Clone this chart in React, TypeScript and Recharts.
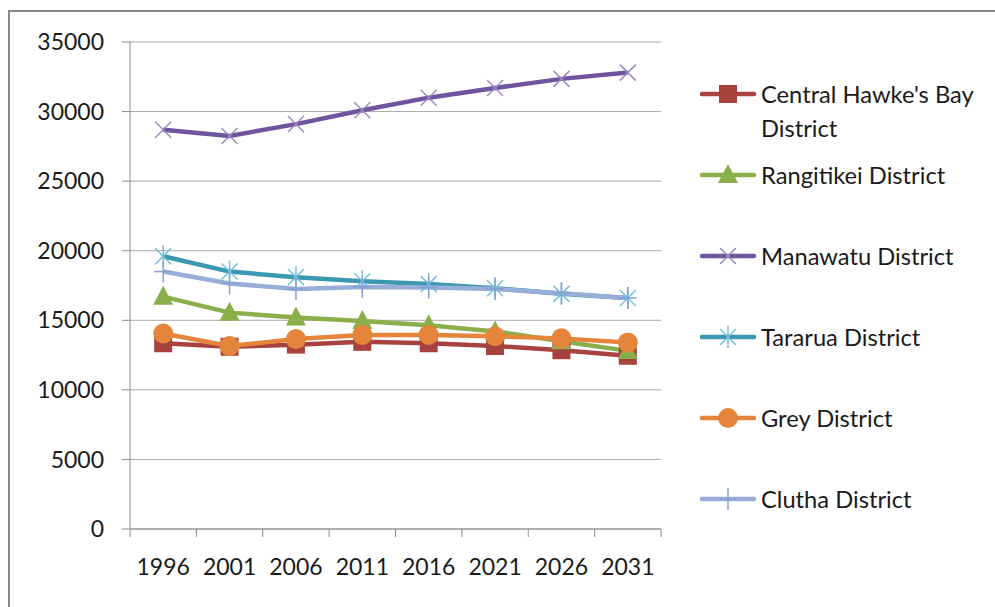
import { LineChart, Line, XAxis, YAxis, CartesianGrid } from "recharts"

const years = ["1996", "2001", "2006", "2011", "2016", "2021", "2026", "2031"]
const centralHawkesBay = [13350, 13100, 13250, 13450, 13350, 13150, 12850, 12450]
const rangitikei = [16700, 15550, 15200, 14950, 14650, 14200, 13500, 12800]
const manawatu = [28700, 28250, 29100, 30100, 31000, 31700, 32350, 32800]
const tararua = [19600, 18500, 18100, 17800, 17600, 17300, 16900, 16600]
const grey = [14050, 13150, 13650, 13950, 13950, 13850, 13700, 13400]
const clutha = [18500, 17650, 17250, 17400, 17350, 17250, 16950, 16600]
const yTicks = [0, 5000, 10000, 15000, 20000, 25000, 30000, 35000]

const data = years.map((year, i) => ({
  year,
  chb: centralHawkesBay[i],
  rangitikei: rangitikei[i],
  manawatu: manawatu[i],
  tararua: tararua[i],
  grey: grey[i],
  clutha: clutha[i],
}))

const W = 995
const H = 607
const margin = { top: 42, right: 334, bottom: 18, left: 0 }
const yAxisWidth = 130
const band = (W - margin.left - margin.right - yAxisWidth) / years.length
const font = "Lato, 'Open Sans', sans-serif"
const fontSize = 23
const axisColor = "#8c8c8c"

type Shape = "square" | "triangle" | "x" | "star" | "circle" | "plus"

function Marker({ cx, cy, shape, color }: { cx: number; cy: number; shape: Shape; color: string }) {
  if (cx == null || cy == null) return null
  switch (shape) {
    case "square":
      return <rect x={cx - 9} y={cy - 9} width={18} height={18} fill={color} />
    case "triangle":
      return <path d={`M${cx},${cy - 11} L${cx + 10},${cy + 8} L${cx - 10},${cy + 8} Z`} fill={color} />
    case "circle":
      return <circle cx={cx} cy={cy} r={10} fill={color} />
    case "x":
      return (
        <g stroke={color} strokeWidth={1.5}>
          <line x1={cx - 8} y1={cy - 8} x2={cx + 8} y2={cy + 8} />
          <line x1={cx - 8} y1={cy + 8} x2={cx + 8} y2={cy - 8} />
        </g>
      )
    case "star":
      return (
        <g stroke={color} strokeWidth={1.5}>
          <line x1={cx - 8} y1={cy - 8} x2={cx + 8} y2={cy + 8} />
          <line x1={cx - 8} y1={cy + 8} x2={cx + 8} y2={cy - 8} />
          <line x1={cx} y1={cy - 11} x2={cx} y2={cy + 11} />
        </g>
      )
    case "plus":
      return (
        <g stroke={color} strokeWidth={1.5}>
          <line x1={cx} y1={cy - 11} x2={cx} y2={cy + 11} />
          <line x1={cx - 9} y1={cy} x2={cx + 9} y2={cy} />
        </g>
      )
  }
}

const series: { key: string; name: string; color: string; marker: string; shape: Shape }[] = [
  { key: "chb", name: "Central Hawke's Bay District", color: "#a8423f", marker: "#a8423f", shape: "square" },
  { key: "rangitikei", name: "Rangitikei District", color: "#8aae4a", marker: "#8aae4a", shape: "triangle" },
  { key: "manawatu", name: "Manawatu District", color: "#7054a0", marker: "#9a88c2", shape: "x" },
  { key: "tararua", name: "Tararua District", color: "#3a98b0", marker: "#72c0da", shape: "star" },
  { key: "grey", name: "Grey District", color: "#e5853b", marker: "#e5853b", shape: "circle" },
  { key: "clutha", name: "Clutha District", color: "#98aed8", marker: "#86a2d2", shape: "plus" },
]

function YearTick(props: any) {
  const { x, y, payload, index } = props
  const axisY = y - 28
  const left = x - band / 2
  return (
    <g>
      <line x1={left} x2={left} y1={axisY} y2={axisY + 8} stroke={axisColor} />
      {index === years.length - 1 && (
        <line x1={x + band / 2} x2={x + band / 2} y1={axisY} y2={axisY + 8} stroke={axisColor} />
      )}
      <text x={x} y={y} dy="0.8em" textAnchor="middle" fill="#1a1a1a" fontSize={fontSize} fontFamily={font}>
        {payload.value}
      </text>
    </g>
  )
}

function LegendBlock() {
  return (
    <div style={{ position: "absolute", left: 700, top: 77, fontFamily: font, fontSize: 23.7, color: "#1a1a1a" }}>
      {series.map((s) => (
        <div key={s.key} style={{ display: "flex", alignItems: "flex-start", height: 81 }}>
          <svg width={61} height={34} style={{ flex: "none" }}>
            <line x1={2} x2={54} y1={17} y2={17} stroke={s.color} strokeWidth={4.5} strokeLinecap="round" />
            <Marker cx={28} cy={17} shape={s.shape} color={s.marker} />
          </svg>
          <div style={{ width: 228, lineHeight: "34px" }}>{s.name}</div>
        </div>
      ))}
    </div>
  )
}

export default function App() {
  return (
    <div style={{ position: "absolute", left: 0, top: 0, width: W, height: H, overflow: "hidden", background: "#fff" }}>
      <div
        style={{
          position: "absolute",
          left: 8,
          top: 10,
          width: W + 20,
          height: H + 20,
          borderLeft: "2px solid #8a8a8a",
          borderTop: "2px solid #8a8a8a",
        }}
      />
      <div style={{ position: "absolute", left: 0, top: 0 }}>
        <LineChart width={W} height={H} data={data} margin={margin}>
          <CartesianGrid vertical={false} stroke="#a8a8a8" />
          <XAxis
            dataKey="year"
            scale="band"
            height={60}
            tickSize={8}
            tickMargin={20}
            tickLine={false}
            axisLine={{ stroke: axisColor }}
            tick={<YearTick />}
            interval={0}
          />
          <YAxis
            width={yAxisWidth}
            domain={[0, 35000]}
            ticks={yTicks}
            interval={0}
            tickSize={8}
            tickMargin={18}
            tickLine={{ stroke: axisColor }}
            axisLine={{ stroke: axisColor }}
            tick={{ fill: "#1a1a1a", fontSize, fontFamily: font }}
          />
          {series.map((s) => (
            <Line
              key={s.key}
              dataKey={s.key}
              name={s.name}
              type="linear"
              stroke={s.color}
              strokeWidth={4.5}
              isAnimationActive={false}
              dot={(p: any) => <Marker key={`${s.key}-${p.index}`} cx={p.cx} cy={p.cy} shape={s.shape} color={s.marker} />}
            />
          ))}
        </LineChart>
      </div>
      <LegendBlock />
    </div>
  )
}
